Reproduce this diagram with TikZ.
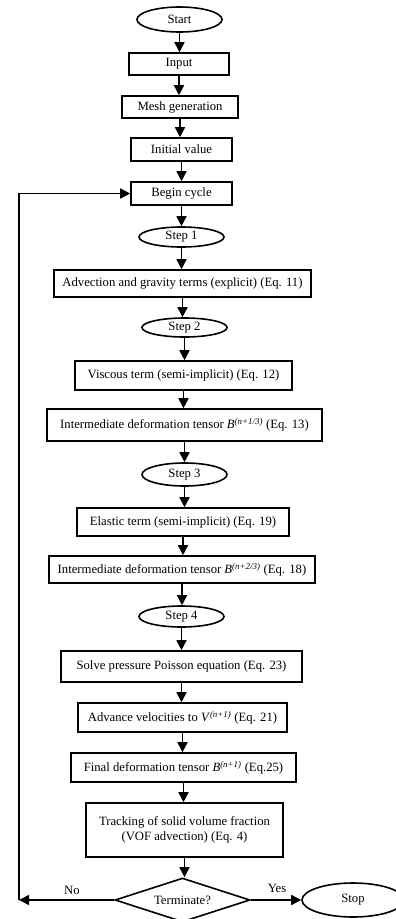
\documentclass[tikz,border=0pt]{standalone}
\usepackage{fontspec}
\setmainfont{Liberation Serif}
\usetikzlibrary{shapes.geometric,arrows.meta}
\tikzset{
  x=1pt,y=-1pt,
  every node/.style={font=\fontsize{12.7}{14.5}\selectfont, inner sep=0pt},
  proc/.style={draw, line width=1.6pt, rectangle, align=center},
  oval/.style={draw, line width=1.6pt, ellipse, minimum width=85pt},
  dec/.style={draw, line width=1.6pt, diamond, minimum width=135pt, minimum height=44pt, aspect=3},
  arr/.style={line width=1.6pt, -{Triangle[length=10pt,width=10pt]}},
  lbl/.style={font=\fontsize{12.7}{14.5}\selectfont}
}
\newcommand{\supit}[2]{\textit{#1}\textsuperscript{\textit{#2}}}
\begin{document}
\begin{tikzpicture}
\useasboundingbox (0,0) rectangle (396,919);
\clip (0,0) rectangle (396,919);
\node[oval, minimum height=25pt] (start) at (179.5,19.5) {Start};
\node[proc, minimum width=100pt, minimum height=22pt] (input) at (179,64) {Input};
\node[proc, minimum width=116pt, minimum height=22pt] (mesh) at (180,107) {Mesh generation};
\node[proc, minimum width=101pt, minimum height=23pt] (init) at (181.5,149.5) {Initial value};
\node[proc, minimum width=101pt, minimum height=23pt] (begin) at (181.5,193.5) {Begin cycle};
\node[oval, minimum height=20pt] (s1) at (181.5,237) {Step 1};
\node[proc, minimum width=257pt, minimum height=27pt] (adv) at (182.5,283.5) {Advection and gravity terms (explicit) (Eq. 11)};
\node[oval, minimum height=19pt] (s2) at (184.5,327.5) {Step 2};
\node[proc, minimum width=217pt, minimum height=29pt] (visc) at (183.5,375.5) {Viscous term (semi-implicit) (Eq. 12)};
\node[proc, minimum width=275pt, minimum height=32pt] (int1) at (184.5,425) {Intermediate deformation tensor \supit{B}{(n+1/3)} (Eq. 13)};
\node[oval, minimum height=23pt] (s3) at (184.5,474.5) {Step 3};
\node[proc, minimum width=212pt, minimum height=28pt] (elas) at (183,522) {Elastic term (semi-implicit) (Eq. 19)};
\node[proc, minimum width=266pt, minimum height=27pt] (int2) at (182,569.5) {Intermediate deformation tensor \supit{B}{(n+2/3)} (Eq. 18)};
\node[oval, minimum height=21pt] (s4) at (181.5,616.5) {Step 4};
\node[proc, minimum width=241pt, minimum height=31pt] (pois) at (181.5,666.5) {Solve pressure Poisson equation (Eq. 23)};
\node[proc, minimum width=209pt, minimum height=29pt] (vel) at (182.5,717.5) {Advance velocities to \supit{V}{(n+1)} (Eq. 21)};
\node[proc, minimum width=225pt, minimum height=29pt] (fin) at (183.5,767.5) {Final deformation tensor \supit{B}{(n+1)} (Eq.25)};
\node[proc, minimum width=197pt, minimum height=54pt] (track) at (184.5,830) {Tracking of solid volume fraction\\(VOF advection) (Eq. 4)};
\node[dec] (term) at (182.5,900) {Terminate?};
\node[oval, minimum width=102pt, minimum height=34pt] (stop) at (353,900) {Stop};
\coordinate (lb) at (19,900);
\node[lbl] (no) at (72,890) {No};
\node[lbl] (yes) at (277,888) {Yes};
\foreach \a/\b in {start/input,input/mesh,mesh/init,init/begin,begin/s1,s1/adv,adv/s2,s2/visc,visc/int1,int1/s3,s3/elas,elas/int2,int2/s4,s4/pois,pois/vel,vel/fin,fin/track,track/term}
  \draw[arr] (\a.south) -- (\a.south |- \b.north);
\draw[arr] (term.east) -- (stop.west);
\draw[arr] (term.west) -- (lb);
\draw[arr] (lb) |- (begin.west);
\end{tikzpicture}
\end{document}
